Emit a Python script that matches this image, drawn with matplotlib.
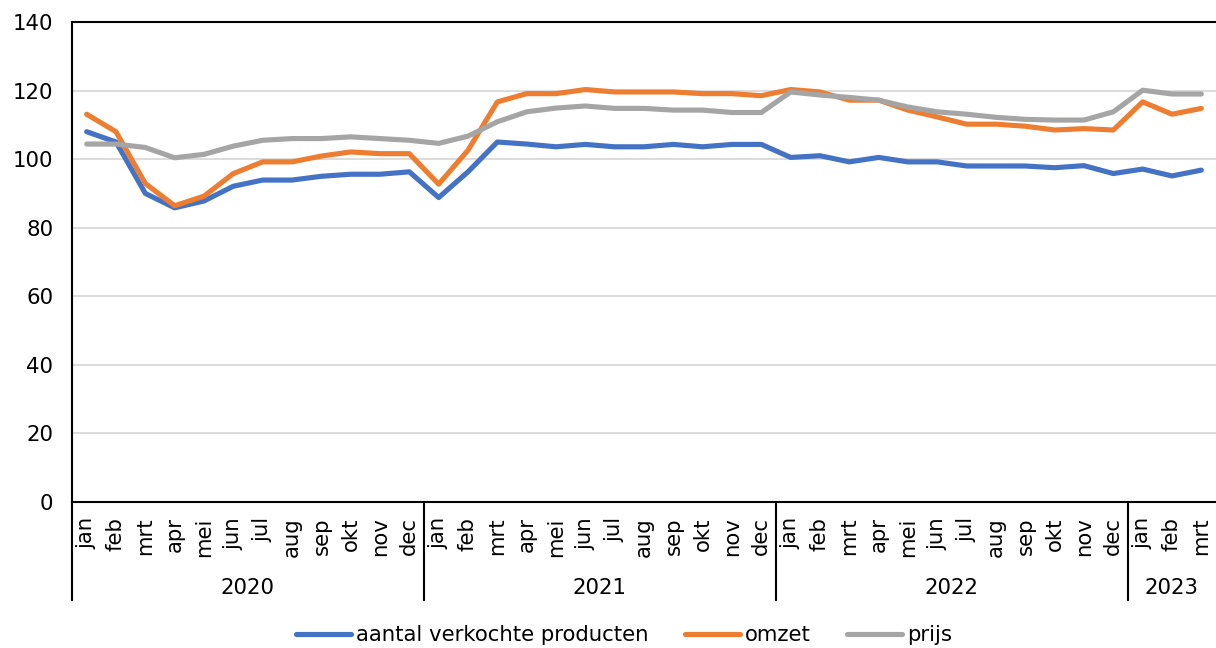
import numpy as np
import matplotlib
matplotlib.use("Agg")
from matplotlib import pyplot as plt
from matplotlib import transforms

months = ["jan", "feb", "mrt", "apr", "mei", "jun", "jul", "aug", "sep", "okt", "nov", "dec"]
years = ["2020", "2021", "2022", "2023"]
months_per_year = [12, 12, 12, 3]

aantal = [108, 105, 90, 85.8, 87.8, 92.1, 93.9, 93.9, 95, 95.6, 95.6, 96.3,
          88.8, 96.3, 105, 104.4, 103.6, 104.3, 103.6, 103.6, 104.3, 103.6, 104.3, 104.3,
          100.5, 101, 99.2, 100.5, 99.2, 99.2, 98, 98, 98, 97.5, 98.1, 95.8,
          97.1, 95.1, 96.8]
omzet = [113.1, 108, 92.9, 86.4, 89.2, 95.8, 99.2, 99.2, 100.9, 102.1, 101.6, 101.6,
         92.7, 102.6, 116.7, 119.1, 119.1, 120.3, 119.6, 119.6, 119.6, 119.1, 119.1, 118.5,
         120.3, 119.6, 117.2, 117.2, 114.3, 112.3, 110.2, 110.2, 109.6, 108.5, 108.9, 108.5,
         116.7, 113.1, 114.8]
prijs = [104.4, 104.4, 103.4, 100.4, 101.4, 103.8, 105.5, 106, 106, 106.5, 106, 105.5,
         104.6, 106.7, 110.9, 113.8, 114.9, 115.5, 114.8, 114.8, 114.3, 114.3, 113.6, 113.6,
         119.6, 118.7, 118, 117.2, 115.2, 113.8, 113.1, 112.2, 111.6, 111.4, 111.4, 113.8,
         120.1, 119, 119]

labels = []
for n in months_per_year:
    labels += months[:n]
x = np.arange(len(labels))

fs = 15.3
W, H = 1216, 648
fig = plt.figure(figsize=(W / 100, H / 100), dpi=100)
ax = fig.add_axes([72 / W, (H - 502) / H, 1144 / W, 480 / H])

ax.plot(x, aantal, color="#4472C4", lw=3.7, label="aantal verkochte producten", solid_capstyle="round")
ax.plot(x, omzet, color="#ED7D31", lw=3.7, label="omzet", solid_capstyle="round")
ax.plot(x, prijs, color="#A5A5A5", lw=3.7, label="prijs", solid_capstyle="round")

ax.set_xlim(-0.5, len(labels) - 0.5)
ax.set_ylim(0, 140)
ax.set_yticks(range(0, 141, 20))
ax.yaxis.grid(True, color="#D9D9D9", lw=1.3)
ax.set_axisbelow(True)
ax.tick_params(axis="y", length=0, pad=13.5, labelsize=fs)
ax.set_xticks(x)
ax.set_xticklabels(labels, rotation=90, fontsize=fs)
ax.tick_params(axis="x", length=0, pad=11)
ax.spines["right"].set_visible(False)
for s in ["left", "top", "bottom"]:
    ax.spines[s].set_linewidth(1.5)
    ax.spines[s].set_color("black")

# year groups below the month labels
trans = transforms.blended_transform_factory(ax.transData, ax.transAxes)
start = 0
for yr, n in zip(years, months_per_year):
    ax.plot([start - 0.5, start - 0.5], [0, -0.204], color="black", lw=1.5,
            transform=trans, clip_on=False)
    ax.text(start + (n - 1) / 2, -0.179, yr, transform=trans, ha="center",
            va="center", fontsize=fs)
    start += n

fig.legend(loc="center", bbox_to_anchor=(624 / W, 1 - 635 / H), ncol=3,
           frameon=False, fontsize=fs, handlelength=2.6, handletextpad=0.24,
           columnspacing=1.7)

fig.savefig("out.png", dpi=100)
